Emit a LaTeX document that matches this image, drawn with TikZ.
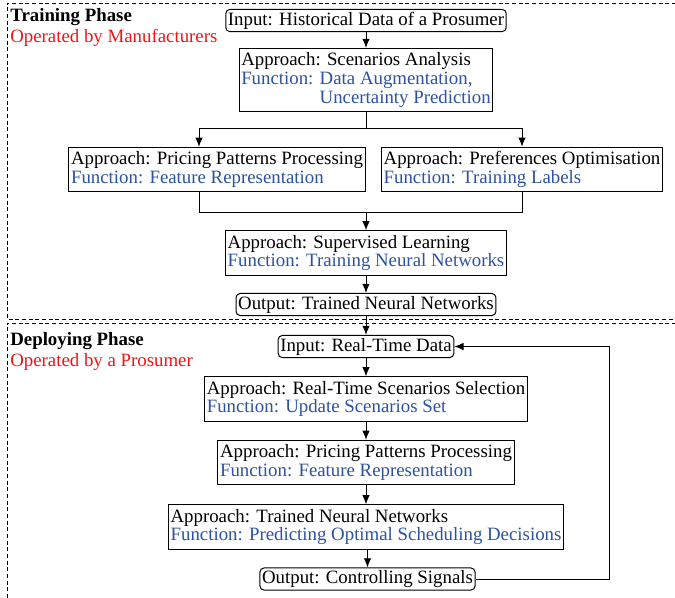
\documentclass[tikz,border=0pt]{standalone}
\usepackage{fontspec}
\setmainfont{Liberation Serif}
\usetikzlibrary{arrows.meta}
\definecolor{fblue}{RGB}{44,82,160}
\definecolor{fred}{RGB}{240,20,20}
\begin{document}
\begin{tikzpicture}[x=0.6pt,y=-0.6pt,
  every node/.style={font=\fontsize{11.3}{11.2}\selectfont},
  blk/.style={draw, line width=0.6pt, align=left, inner xsep=1.3pt, inner ysep=2.6pt},
  io/.style={draw, line width=0.6pt, rounded corners=2.5pt, inner xsep=1.3pt, inner ysep=1.5pt},
  conn/.style={line width=0.6pt},
  arr/.style={conn, -{Latex[length=5.5pt,width=4.5pt]}},
  phase/.style={line width=0.5pt, dash pattern=on 2.4pt off 1.6pt},
  lbl/.style={anchor=base west, inner sep=0pt}
]
\useasboundingbox (0,0) rectangle (675,597);
% phase frames
\draw[phase] (676,3) -- (7,3) -- (7,319) -- (676,319);
\draw[phase] (676,323) -- (7,323) -- (7,598);
\node[lbl] (tp) at (10,21) {\textbf{Training Phase}};
\node[lbl, text=fred] (tpo) at (10,42) {Operated by Manufacturers};
\node[lbl] (dp) at (10,345) {\textbf{Deploying Phase}};
\node[lbl, text=fred] (dpo) at (10,366) {Operated by a Prosumer};
% training nodes
\node[io] (ih) at (366,20.5) {Input: Historical Data of a Prosumer};
\node[blk] (sa) at (366,80) {Approach: Scenarios Analysis\\\textcolor{fblue}{Function: Data Augmentation,}\\\textcolor{fblue}{\phantom{Function: }Uncertainty Prediction}};
\node[blk] (pp) at (217,169.5) {Approach: Pricing Patterns Processing\\\textcolor{fblue}{Function: Feature Representation}};
\node[blk] (po) at (522,169.5) {Approach: Preferences Optimisation\\\textcolor{fblue}{Function: Training Labels}};
\node[blk] (sl) at (366,253) {Approach: Supervised Learning\\\textcolor{fblue}{Function: Training Neural Networks}};
\node[io] (otn) at (366,304.5) {Output: Trained Neural Networks};
% deploying nodes
\node[io] (irt) at (366,346.5) {Input: Real-Time Data};
\node[blk] (rts) at (366,399) {Approach: Real-Time Scenarios Selection\\\textcolor{fblue}{Function: Update Scenarios Set}};
\node[blk] (pp2) at (366,462.5) {Approach: Pricing Patterns Processing\\\textcolor{fblue}{Function: Feature Representation}};
\node[blk] (tnn) at (366,527) {Approach: Trained Neural Networks\\\textcolor{fblue}{Function: Predicting Optimal Scheduling Decisions}};
\node[io] (ocs) at (367.5,579) {Output: Controlling Signals};
% connectors
\coordinate (s1) at (366,128);
\coordinate (sl1) at (199,128);
\coordinate (sr1) at (522,128);
\coordinate (m1) at (366,212);
\coordinate (ml) at (199,212);
\coordinate (mr) at (522,212);
\coordinate (fb) at (609,579);
\draw[arr] (ih) -- (sa);
\draw[conn] (sa.south) -- (s1);
\draw[conn] (sl1) -- (sr1);
\draw[arr] (sl1) -- (sl1 |- pp.north);
\draw[arr] (sr1) -- (sr1 |- po.north);
\draw[conn] (pp.south -| ml) -- (ml) -- (mr) -- (po.south -| mr);
\draw[arr] (m1) -- (sl.north);
\draw[arr] (sl) -- (otn);
\draw[arr] (otn) -- (irt);
\draw[arr] (irt) -- (rts);
\draw[arr] (rts) -- (pp2);
\draw[arr] (pp2) -- (tnn);
\draw[arr] (tnn.south -| ocs.north) -- (ocs.north);
\draw[arr] (ocs.east) -- (ocs.east -| fb) |- (irt.east);
\end{tikzpicture}
\end{document}
